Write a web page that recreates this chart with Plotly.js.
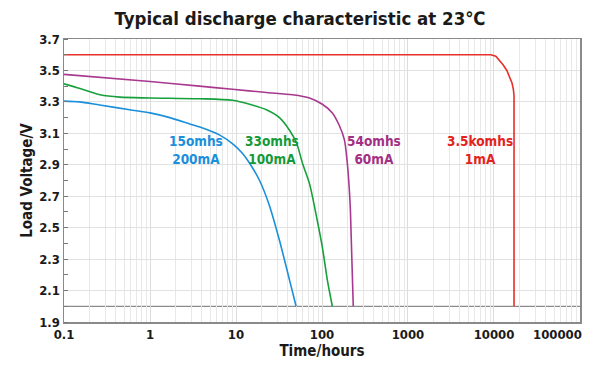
<!DOCTYPE html>
<html>
<head>
<meta charset="utf-8">
<script src="https://cdn.plot.ly/plotly-3.0.1.min.js"></script>
<style>html,body{margin:0;padding:0;background:#fff;}#chart{width:600px;height:366px;}</style>
</head>
<body>
<div id="chart"></div>
<script>
// Blue: 15 ohms / 200 mA
const blueHours = [0.1, 0.15, 0.26, 0.58, 1, 1.7, 2.9, 3.8, 6.4, 9.3, 12, 14.4, 18.8, 24.5, 32, 42, 50];
const blueVolts = [3.305, 3.30, 3.28, 3.25, 3.23, 3.20, 3.16, 3.14, 3.09, 3.03, 2.97, 2.91, 2.80, 2.64, 2.42, 2.165, 2.0];
// Green: 33 ohms / 100 mA
const greenHours = [0.1, 0.153, 0.262, 0.446, 0.99, 3.76, 9.1, 14.4, 22.6, 32, 41.9, 50.5, 59.3, 71.5, 88.5, 101, 115.6, 132];
const greenVolts = [3.415, 3.385, 3.345, 3.33, 3.325, 3.32, 3.31, 3.285, 3.25, 3.20, 3.12, 3.04, 2.91, 2.78, 2.54, 2.375, 2.165, 2.0];
// Purple: 54 ohms / 60 mA
const purpleHours = [0.1, 1, 3.76, 9.1, 22.6, 45.4, 71.5, 101, 132, 159, 182, 197, 208, 214, 231];
const purpleVolts = [3.475, 3.43, 3.40, 3.38, 3.36, 3.345, 3.325, 3.285, 3.23, 3.15, 3.06, 2.91, 2.74, 2.61, 2.0];
// Red: 3.5 kohms / 1 mA
const redHours = [0.1, 9200, 10500, 11400, 12800, 14100, 15200, 16200, 16800, 17100, 17100];
const redVolts = [3.6, 3.6, 3.59, 3.567, 3.535, 3.50, 3.46, 3.42, 3.38, 3.34, 2.0];

const cutoffVoltage = 2.0;

const xTickVals = [0.1, 1, 10, 100, 1000, 10000, 100000];
const xTickText = ['0.1', '1', '10', '100', '1000', '10000', ''];
const xLastTickText = '100000';   // drawn pulled inside the right edge, as in the reference
const yTickVals = [1.9, 2.1, 2.3, 2.5, 2.7, 2.9, 3.1, 3.3, 3.5, 3.7];
const yTickText = ['1.9', '2.1', '2.3', '2.5', '2.7', '2.9', '3.1', '3.3', '3.5', '3.7'];

const labelTexts = ['15omhs<br>200mA', '33omhs<br>100mA', '54omhs<br>60mA', '3.5komhs<br>1mA'];
const labelHours = [3.4, 25.9, 405, 6890];
const labelVolt = 2.995;

const colors = ['#1a8fdc', '#16a03c', '#a8398f', '#e8302a'];
const labelColors = ['#1a8fdc', '#169a38', '#a32f85', '#e3231b'];

// minor gridline positions for log axis
const minorVals = [];
for (let e = -1; e < 5; e++) for (let d = 2; d <= 9; d++) minorVals.push(d * Math.pow(10, e));

const FONT = 'DejaVu Sans Condensed, DejaVu Sans, sans-serif';

const series = [[blueHours, blueVolts], [greenHours, greenVolts], [purpleHours, purpleVolts], [redHours, redVolts]];
const traces = series.map((s, i) => ({
  x: s[0], y: s[1], type: 'scatter', mode: 'lines',
  line: {color: colors[i], width: 1.6, shape: i === 3 ? 'linear' : 'spline', smoothing: 0.8},
  hoverinfo: 'skip', showlegend: false
}));

const annotations = labelTexts.map((t, i) => ({
  text: '<b>' + t + '</b>', x: Math.log10(labelHours[i]), y: labelVolt, xref: 'x', yref: 'y',
  showarrow: false, font: {family: FONT, size: 13.5, color: labelColors[i]}, align: 'center'
}));
annotations.push({
  text: '<b>' + xLastTickText + '</b>', x: Math.log10(xTickVals[xTickVals.length - 1]), xref: 'x',
  y: 0, yref: 'paper', xanchor: 'right', yanchor: 'middle', xshift: 4, yshift: -12,
  showarrow: false, font: {family: FONT, size: 13, color: '#1a1a1a'}
});

const layout = {
  width: 600, height: 366,
  margin: {l: 64, r: 20, t: 39, b: 44},
  paper_bgcolor: '#fff', plot_bgcolor: '#fff',
  title: {text: '<b>Typical discharge characteristic at 23℃</b>', x: 0.5, xanchor: 'center', y: 0.95, yanchor: 'middle',
    font: {family: FONT, size: 18.5, color: '#1a1a1a'}},
  xaxis: {
    type: 'log', range: [-1, 5.0001],
    tickmode: 'array', tickvals: xTickVals, ticktext: xTickText,
    tickfont: {family: FONT, size: 13, color: '#1a1a1a', weight: 'bold'},
    showgrid: true, gridcolor: '#dcdcdc', gridwidth: 1,
    minor: {tickmode: 'array', tickvals: minorVals, showgrid: true, gridcolor: '#e8e8e8', gridwidth: 1, ticks: ''},
    showline: true, linecolor: '#8a8a8a', linewidth: 1.5, mirror: true,
    ticks: '', zeroline: false,
    title: {text: '<b>Time/hours</b>', font: {family: FONT, size: 15, color: '#1a1a1a'}, standoff: 4}
  },
  yaxis: {
    range: [1.9, 3.7],
    tickmode: 'array', tickvals: yTickVals, ticktext: yTickText,
    tickfont: {family: FONT, size: 13, color: '#1a1a1a', weight: 'bold'},
    showgrid: true, gridcolor: '#e2e2e2', gridwidth: 1,
    minor: {dtick: 0.1, tick0: 1.9, ticks: 'inside', ticklen: 4, tickcolor: '#777', showgrid: false},
    showline: true, linecolor: '#8a8a8a', linewidth: 1.5, mirror: true,
    ticks: '', zeroline: false,
    title: {text: '<b>Load Voltage/V</b>', font: {family: FONT, size: 15, color: '#1a1a1a'}, standoff: 3}
  },
  shapes: [{type: 'line', xref: 'paper', x0: 0, x1: 1, yref: 'y', y0: cutoffVoltage, y1: cutoffVoltage,
    line: {color: '#8c8c8c', width: 1.2}, layer: 'below'}],
  annotations: annotations
};

Plotly.newPlot('chart', traces, layout, {staticPlot: true, displayModeBar: false});
</script>
</body>
</html>
